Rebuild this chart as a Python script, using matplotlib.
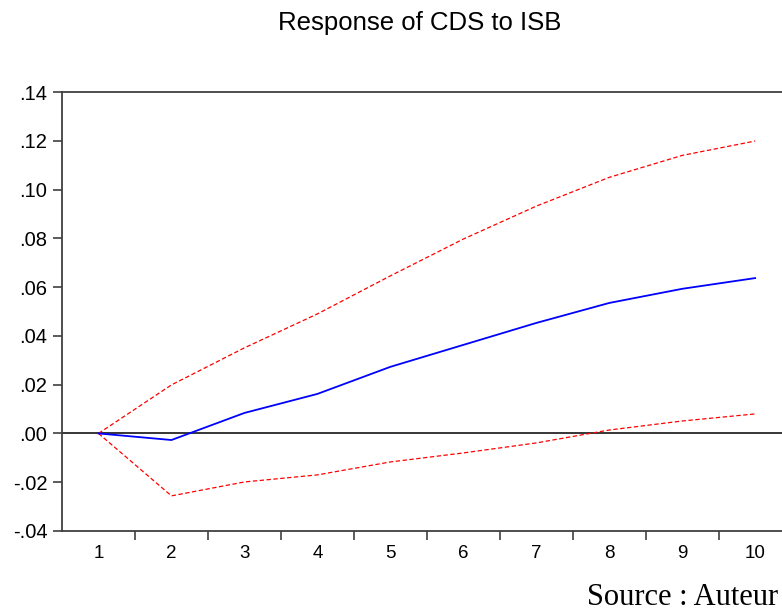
import matplotlib
matplotlib.use("Agg")
import matplotlib.pyplot as plt
import numpy as np

periods = [1, 2, 3, 4, 5, 6, 7, 8, 9, 10]
response = [0.0, -0.0027, 0.0084, 0.0162, 0.0273, 0.0363, 0.0453, 0.0535, 0.0593, 0.0637]
upper = [0.0, 0.0199, 0.0351, 0.049, 0.0646, 0.0797, 0.0932, 0.105, 0.114, 0.1199]
lower = [0.0, -0.0256, -0.0199, -0.017, -0.0117, -0.008, -0.0039, 0.0014, 0.0051, 0.008]
yticks = [-0.04, -0.02, 0.00, 0.02, 0.04, 0.06, 0.08, 0.10, 0.12, 0.14]

plt.rcParams["font.family"] = ["Liberation Sans", "DejaVu Sans"]

fig = plt.figure(figsize=(7.82, 6.13), dpi=100)
ax = fig.add_axes([0.0793, 0.1338, 0.933, 0.7161])

ax.axhline(0, color="black", lw=1.1, zorder=1)
ax.plot(periods, response, color="#0000ff", lw=1.3, zorder=3)
ax.plot(periods, upper, color="#ff0000", lw=0.9, ls=(0, (3.5, 2)), zorder=2)
ax.plot(periods, lower, color="#ff0000", lw=0.9, ls=(0, (3.5, 2)), zorder=2)

ax.set_xlim(0.5, 10.5)
ax.set_ylim(-0.04, 0.14)

ax.set_yticks(yticks)
ax.set_yticklabels([("-" if v < 0 else "") + f"{abs(v):.2f}".lstrip("0") for v in yticks])
ax.set_xticks(periods)
ax.set_xticklabels([str(p) for p in periods])
ax.set_xticks(np.arange(1.5, 10.5, 1), minor=True)
ax.tick_params(axis="x", which="major", length=0, pad=10, labelsize=13.5)
ax.tick_params(axis="x", which="minor", length=6.5, width=1.2, color="#404040", direction="out")
ax.tick_params(axis="y", length=6.5, width=1.2, color="#404040", direction="out", labelsize=14.5, pad=4)

for s in ax.spines.values():
    s.set_color("#404040")
    s.set_linewidth(1.3)

fig.text(0.537, 0.951, "Response of CDS to ISB", ha="center", va="baseline", fontsize=18.5)
fig.text(0.995, 0.013, "Source : Auteur", ha="right", va="baseline", fontsize=22,
         family=["Liberation Serif", "DejaVu Serif"])

fig.savefig("out.png", dpi=100)
